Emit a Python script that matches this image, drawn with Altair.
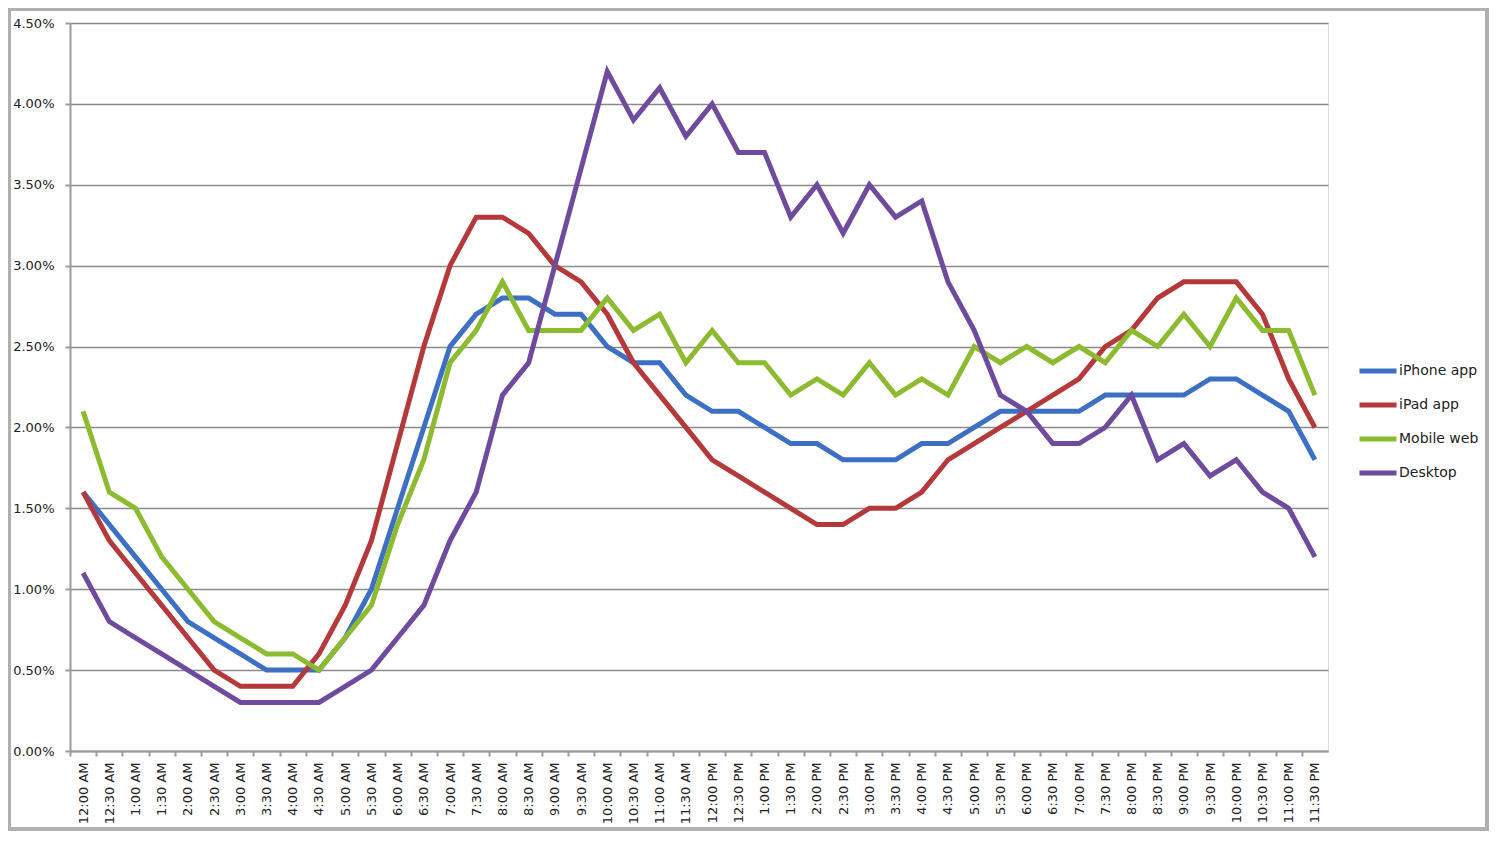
import altair as alt
import pandas as pd

times = ["12:00 AM", "12:30 AM", "1:00 AM", "1:30 AM", "2:00 AM", "2:30 AM", "3:00 AM", "3:30 AM",
         "4:00 AM", "4:30 AM", "5:00 AM", "5:30 AM", "6:00 AM", "6:30 AM", "7:00 AM", "7:30 AM",
         "8:00 AM", "8:30 AM", "9:00 AM", "9:30 AM", "10:00 AM", "10:30 AM", "11:00 AM", "11:30 AM",
         "12:00 PM", "12:30 PM", "1:00 PM", "1:30 PM", "2:00 PM", "2:30 PM", "3:00 PM", "3:30 PM",
         "4:00 PM", "4:30 PM", "5:00 PM", "5:30 PM", "6:00 PM", "6:30 PM", "7:00 PM", "7:30 PM",
         "8:00 PM", "8:30 PM", "9:00 PM", "9:30 PM", "10:00 PM", "10:30 PM", "11:00 PM", "11:30 PM"]

# values in percent
iphone_app = [1.6, 1.4, 1.2, 1.0, 0.8, 0.7, 0.6, 0.5, 0.5, 0.5, 0.7, 1.0, 1.5, 2.0, 2.5, 2.7,
              2.8, 2.8, 2.7, 2.7, 2.5, 2.4, 2.4, 2.2, 2.1, 2.1, 2.0, 1.9, 1.9, 1.8, 1.8, 1.8,
              1.9, 1.9, 2.0, 2.1, 2.1, 2.1, 2.1, 2.2, 2.2, 2.2, 2.2, 2.3, 2.3, 2.2, 2.1, 1.8]
ipad_app = [1.6, 1.3, 1.1, 0.9, 0.7, 0.5, 0.4, 0.4, 0.4, 0.6, 0.9, 1.3, 1.9, 2.5, 3.0, 3.3,
            3.3, 3.2, 3.0, 2.9, 2.7, 2.4, 2.2, 2.0, 1.8, 1.7, 1.6, 1.5, 1.4, 1.4, 1.5, 1.5,
            1.6, 1.8, 1.9, 2.0, 2.1, 2.2, 2.3, 2.5, 2.6, 2.8, 2.9, 2.9, 2.9, 2.7, 2.3, 2.0]
mobile_web = [2.1, 1.6, 1.5, 1.2, 1.0, 0.8, 0.7, 0.6, 0.6, 0.5, 0.7, 0.9, 1.4, 1.8, 2.4, 2.6,
              2.9, 2.6, 2.6, 2.6, 2.8, 2.6, 2.7, 2.4, 2.6, 2.4, 2.4, 2.2, 2.3, 2.2, 2.4, 2.2,
              2.3, 2.2, 2.5, 2.4, 2.5, 2.4, 2.5, 2.4, 2.6, 2.5, 2.7, 2.5, 2.8, 2.6, 2.6, 2.2]
desktop = [1.1, 0.8, 0.7, 0.6, 0.5, 0.4, 0.3, 0.3, 0.3, 0.3, 0.4, 0.5, 0.7, 0.9, 1.3, 1.6,
           2.2, 2.4, 3.0, 3.6, 4.2, 3.9, 4.1, 3.8, 4.0, 3.7, 3.7, 3.3, 3.5, 3.2, 3.5, 3.3,
           3.4, 2.9, 2.6, 2.2, 2.1, 1.9, 1.9, 2.0, 2.2, 1.8, 1.9, 1.7, 1.8, 1.6, 1.5, 1.2]

series_names = ["iPhone app", "iPad app", "Mobile web", "Desktop"]
series_values = [iphone_app, ipad_app, mobile_web, desktop]
series_colors = ["#3d6fc4", "#b5393a", "#8cbb2f", "#6f4b9e"]
y_ticks = [0.0, 0.5, 1.0, 1.5, 2.0, 2.5, 3.0, 3.5, 4.0, 4.5]

rows = []
for name, vals in zip(series_names, series_values):
    for t, v in zip(times, vals):
        rows.append({"time": t, "series": name, "value": v / 100.0})
df = pd.DataFrame(rows)

W, H = 1258, 728
HALF = W / len(times) / 2
FONT = "DejaVu Sans"

lines = alt.Chart(df).mark_line(strokeWidth=5, strokeJoin="miter").encode(
    x=alt.X("time:N", sort=times, title=None,
            scale=alt.Scale(paddingInner=0, paddingOuter=0),
            axis=alt.Axis(labelAngle=-90, tickOffset=-HALF, labelOffset=HALF,
                          tickSize=5, labelPadding=6, labelFontSize=13,
                          labelColor="#222", labelFont=FONT, domainColor="#9a9a9a",
                          domainWidth=2, tickColor="#9a9a9a", tickWidth=2, grid=False)),
    y=alt.Y("value:Q", title=None,
            scale=alt.Scale(domain=[0, 0.045], nice=False),
            axis=alt.Axis(values=[v / 100 for v in y_ticks], format=".2%",
                          tickSize=5, labelPadding=11, labelFontSize=13, labelFont=FONT,
                          labelColor="#222", domainColor="#9a9a9a", domainWidth=2,
                          tickColor="#9a9a9a", tickWidth=2, grid=True,
                          gridColor="#8a8a8a", gridWidth=1.5)),
    color=alt.Color("series:N", sort=series_names,
                    scale=alt.Scale(domain=series_names, range=series_colors),
                    legend=alt.Legend(title=None, orient="none", legendX=1287, legendY=327,
                                      symbolType="stroke", symbolSize=1369, symbolStrokeWidth=5,
                                      labelFontSize=14, labelFont=FONT, labelColor="#222",
                                      labelOffset=0, rowPadding=3)),
    order=alt.Order("series:N")
)

frame = alt.Chart(df).mark_rect(filled=False, stroke="#b0b0b0", strokeWidth=3).encode(
    x=alt.value(-61), x2=alt.value(W + 159), y=alt.value(-14), y2=alt.value(H + 78)
)

chart = alt.layer(lines, frame).properties(
    width=W, height=H,
    autosize=alt.AutoSizeParams(type="none"),
    padding={"left": 62, "top": 15, "right": 161, "bottom": 80}
).configure_view(stroke=None).configure(background="white")

chart.save("out.html", embed_options={"renderer": "svg", "actions": False})
